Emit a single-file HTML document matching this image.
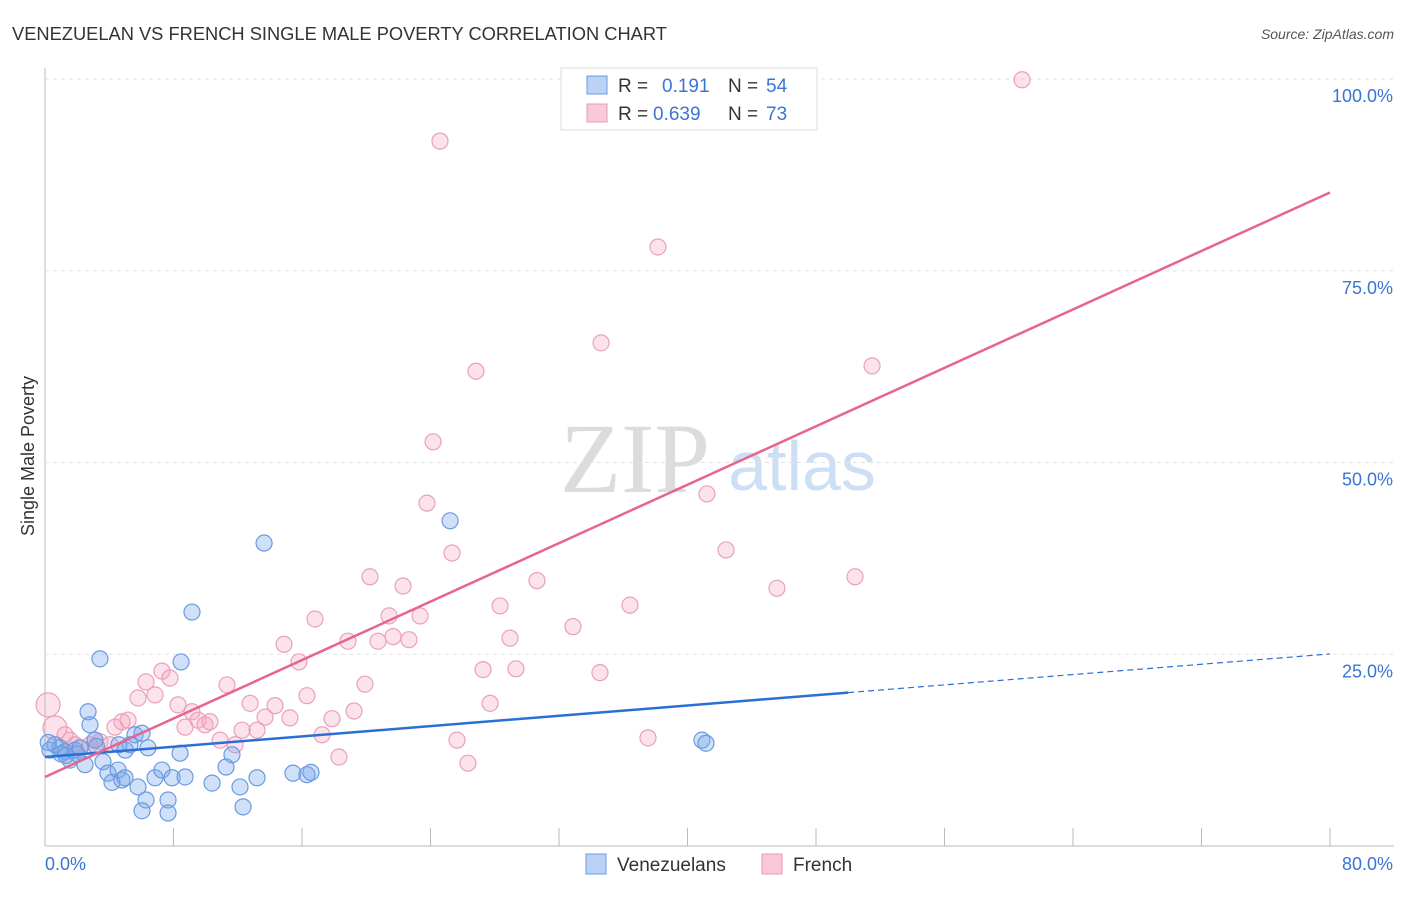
<!DOCTYPE html>
<html><head><meta charset="utf-8"><style>
body{margin:0;background:#fff;font-family:"Liberation Sans",sans-serif;}
svg text{font-family:"Liberation Sans",sans-serif;}
svg text.serif{font-family:"Liberation Serif",serif;}
</style></head><body>
<svg id="chart" width="1406" height="892" xmlns="http://www.w3.org/2000/svg">
<text x="12" y="40" font-size="18.3" fill="#333">VENEZUELAN VS FRENCH SINGLE MALE POVERTY CORRELATION CHART</text>
<text x="1394" y="39" font-size="14" fill="#555" font-style="italic" text-anchor="end">Source: ZipAtlas.com</text>
<g>
<text class="serif" x="635" y="492" font-size="100" fill="#dcdcdc" text-anchor="middle">ZIP</text>
<text x="802" y="490" font-size="70" fill="#cddff5" text-anchor="middle">atlas</text>
</g>
<g id="grid"></g>
<g id="marks"></g>
<g id="lines"></g>
<text transform="translate(34,456) rotate(-90)" font-size="18" fill="#333" text-anchor="middle">Single Male Poverty</text>
<g>
<rect x="561" y="68" width="256" height="62" fill="#fff" stroke="#ddd"/>
<rect x="587" y="76" width="20" height="18" fill="#b9d2f5" stroke="#6a9be0"/>
<text x="618" y="92" font-size="19" fill="#333">R =</text><text x="662" y="92" font-size="19" fill="#3b74d4">0.191</text>
<text x="728" y="92" font-size="19" fill="#333">N =</text><text x="766" y="92" font-size="19" fill="#3b74d4">54</text>
<rect x="587" y="104" width="20" height="18" fill="#f9c9d8" stroke="#e89ab5"/>
<text x="618" y="120" font-size="19" fill="#333">R =</text><text x="653" y="120" font-size="19" fill="#3b74d4">0.639</text>
<text x="728" y="120" font-size="19" fill="#333">N =</text><text x="766" y="120" font-size="19" fill="#3b74d4">73</text>
</g>
<g>
<rect x="586" y="854" width="20" height="20" fill="#b9d2f5" stroke="#6a9be0"/>
<text x="617" y="871" font-size="19" fill="#333">Venezuelans</text>
<rect x="762" y="854" width="20" height="20" fill="#f9c9d8" stroke="#e89ab5"/>
<text x="793" y="871" font-size="19" fill="#333">French</text>
</g>
</svg>
<script>
const blueX=[0.31,0.62,0.93,1.25,1.56,1.87,2.18,2.49,2.68,2.80,3.11,3.42,3.61,3.92,4.17,4.55,4.79,4.98,5.29,5.60,5.79,6.04,6.41,6.29,6.04,6.85,7.28,7.66,7.66,7.91,8.41,8.47,8.72,9.15,10.40,11.27,11.64,12.14,12.33,13.20,13.64,15.44,16.31,16.56,25.22,40.90,41.15,0.2,1.0,2.0,3.2,4.6,5.0,1.3];
const blueY=[12.5,13.2,12.8,12.3,11.2,12.5,12.8,10.6,17.5,15.8,13.8,24.4,11.0,9.5,8.3,9.9,8.6,8.9,13.2,14.5,7.7,14.7,12.8,6.0,4.6,8.9,9.9,6.0,4.3,8.9,12.1,24.0,9.0,30.5,8.2,10.3,11.9,7.7,5.1,8.9,39.5,9.5,9.3,9.6,42.4,13.8,13.4,13.5,12.0,12.0,13.0,13.2,12.5,11.8];
const pinkX=[0.19,0.62,1.25,1.56,1.87,2.18,2.80,3.11,3.42,4.05,4.36,4.79,5.17,5.79,6.29,6.85,7.28,7.78,8.28,8.72,9.15,9.53,9.96,10.27,10.90,11.33,11.83,12.27,12.77,13.20,13.70,14.32,14.88,15.25,15.81,16.31,16.81,17.25,17.87,18.30,18.86,19.24,19.92,20.23,20.73,21.42,21.67,22.29,22.66,23.35,23.78,24.16,24.59,25.34,25.65,26.33,26.83,27.27,27.71,28.33,28.95,29.32,30.63,32.87,33.62,34.55,34.62,36.42,37.54,38.16,41.21,42.40,45.57,50.43,51.49,60.83];
const pinkY=[18.4,15.4,14.5,13.8,13.2,12.8,13.2,13.8,13.6,13.2,15.5,16.2,16.4,19.3,21.4,19.7,22.8,21.9,18.4,15.5,17.5,16.4,15.8,16.2,13.8,21.0,13.2,15.1,18.6,15.1,16.8,18.3,26.3,16.7,24.0,19.6,29.6,14.5,16.6,11.6,26.7,17.6,21.1,35.1,26.7,30.0,27.3,33.9,26.9,30.0,44.7,52.7,91.9,38.2,13.8,10.8,61.9,23.0,18.6,31.3,27.1,23.1,34.6,28.6,100,22.6,65.6,31.4,14.1,78.1,45.9,38.6,33.6,35.1,62.6,99.9];
const xTicks=[0,8,16,24,32,40,48,56,64,72,80];
const yTicks=[25,50,75,100];
const yTickLabels=["25.0%","50.0%","75.0%","100.0%"];
const blueTrend=[11.6,0.168];
const pinkTrend=[9.0,0.9525];
const NS="http://www.w3.org/2000/svg";
const sx=v=>45+v/80*1285, sy=v=>846-v/100*767;
function mk(tag,attrs,parent){const e=document.createElementNS(NS,tag);for(const k in attrs)e.setAttribute(k,attrs[k]);parent.appendChild(e);return e;}
const grid=document.getElementById('grid'),marks=document.getElementById('marks'),lines=document.getElementById('lines');
mk('line',{x1:45,y1:68,x2:45,y2:846,stroke:'#bbb'},grid);
mk('line',{x1:45,y1:846,x2:1394,y2:846,stroke:'#bbb'},grid);
xTicks.forEach(t=>{const l=mk('line',{x1:sx(t),y1:828,x2:sx(t),y2:846,stroke:'#bbb'},grid);
});
yTicks.forEach((t,i)=>{const g=mk('line',{x1:45,y1:sy(t),x2:1394,y2:sy(t),stroke:'#e2e2e2','stroke-dasharray':'4,4'},grid);

const tx=mk('text',{x:1393,y:sy(t)+23,'font-size':18,fill:'#3b74d4','text-anchor':'end'},grid);tx.textContent=yTickLabels[i];
});
let t0=mk('text',{x:45,y:870,'font-size':18,fill:'#3b74d4'},grid);t0.textContent='0.0%';

let t1=mk('text',{x:1393,y:870,'font-size':18,fill:'#3b74d4','text-anchor':'end'},grid);t1.textContent='80.0%';

pinkX.forEach((x,i)=>{const r=i<2?12:8;const c=mk('circle',{cx:sx(x),cy:sy(pinkY[i]),r:r,fill:'rgba(245,160,190,0.3)',stroke:'#eaa0ba','stroke-width':1.2},marks);
});
blueX.forEach((x,i)=>{const c=mk('circle',{cx:sx(x),cy:sy(blueY[i]),r:8,fill:'rgba(120,165,235,0.35)',stroke:'#6a9be0','stroke-width':1.2},marks);
});
const bl=mk('line',{x1:sx(0),y1:sy(blueTrend[0]),x2:sx(50),y2:sy(blueTrend[0]+blueTrend[1]*50),stroke:'#2a6fd6','stroke-width':2.5},lines);

const bd=mk('line',{x1:sx(50),y1:sy(blueTrend[0]+blueTrend[1]*50),x2:sx(80),y2:sy(blueTrend[0]+blueTrend[1]*80),stroke:'#2a6fd6','stroke-width':1.2,'stroke-dasharray':'6,4'},lines);

const pl=mk('line',{x1:sx(0),y1:sy(pinkTrend[0]),x2:sx(80),y2:sy(pinkTrend[0]+pinkTrend[1]*80),stroke:'#e6648f','stroke-width':2.5},lines);

</script>
</body></html>
